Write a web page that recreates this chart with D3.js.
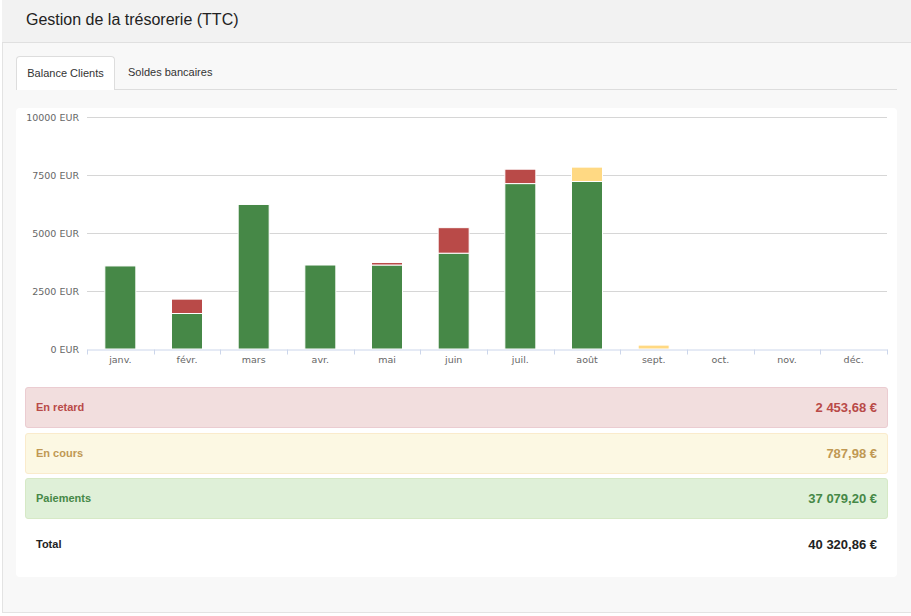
<!DOCTYPE html>
<html><head><meta charset="utf-8">
<script src="https://cdn.jsdelivr.net/npm/d3@7"></script>
<style>
html,body{margin:0;padding:0;width:911px;height:616px;overflow:hidden;background:#fff;font-family:"Liberation Sans",Arial,sans-serif;}
#panel{position:absolute;left:2px;top:0;width:909px;height:613px;background:#f8f8f8;border-left:1px solid #e3e3e3;border-bottom:1px solid #e3e3e3;box-sizing:border-box;}
#head{position:absolute;left:0;top:0;width:909px;height:43px;background:#f2f2f2;border-bottom:1px solid #e0e0e0;box-sizing:border-box;}
#title{position:absolute;left:24px;top:11px;font-size:16px;color:#222;}
#tabline{position:absolute;left:16px;top:89px;width:881px;height:1px;background:#ddd;}
.tab{position:absolute;top:56px;height:33px;font-size:11px;color:#333;line-height:33px;box-sizing:border-box;}
#tab1{left:16px;width:99px;background:#fff;border:1px solid #ddd;border-bottom:none;border-radius:4px 4px 0 0;text-align:center;height:34px;}
#tab2{left:128px;}
#box{position:absolute;left:16px;top:108px;width:881px;height:469px;background:#fff;border-radius:4px;}
#chart{position:absolute;left:16px;top:108px;}
.alert{position:absolute;left:25px;width:863px;height:41px;border:1px solid;border-radius:3px;box-sizing:border-box;font-weight:bold;}
.alert .l{position:absolute;left:10px;top:13px;font-size:11px;}
.alert .v{position:absolute;right:10px;top:12px;font-size:13px;}
</style></head><body>
<div id="panel">
</div>
<div id="head" style="left:2px"><div id="title">Gestion de la trésorerie (TTC)</div></div>
<div id="tabline"></div>
<div class="tab" id="tab1">Balance Clients</div>
<div class="tab" id="tab2">Soldes bancaires</div>
<div id="box"></div>
<svg id="chart" width="881" height="270"></svg>
<div id="alerts"></div>
<script>
const months = ["janv.","févr.","mars","avr.","mai","juin","juil.","août","sept.","oct.","nov.","déc."];
const paiements = [3580,1530,6230,3620,3620,4130,7130,7220,0,0,0,0];
const enRetard  = [0,620,0,0,110,1100,620,0,0,0,0,0];
const enCours   = [0,0,0,0,0,0,0,620,168,0,0,0];
const yTicks = [0,2500,5000,7500,10000];
const summaryLabels = ["En retard","En cours","Paiements","Total"];
const summaryValues = ["2 453,68 €","787,98 €","37 079,20 €","40 320,86 €"];

const colors = {paiements:"#468847", retard:"#b94a48", cours:"#ffd983"};

const data = months.map((m,i)=>({m, paiements:paiements[i], retard:enRetard[i], cours:enCours[i]}));
const svg = d3.select("#chart");
const x = d3.scaleBand().domain(months).range([71,871]).padding(0);
const y = d3.scaleLinear().domain([0,10000]).range([241,9]);

// grid
svg.append("g").selectAll("line").data(yTicks.filter(t=>t>0)).join("line")
  .attr("x1",71).attr("x2",871)
  .attr("y1",d=>Math.round(y(d))+0.5).attr("y2",d=>Math.round(y(d))+0.5)
  .attr("stroke","#d6d6d6").attr("stroke-width",1);

// y labels
svg.append("g").selectAll("text").data(yTicks).join("text")
  .attr("x",63).attr("y",d=>y(d)+3.5).attr("text-anchor","end")
  .attr("font-family","DejaVu Sans, sans-serif").attr("font-size","9.5px").attr("fill","#666")
  .text(d=>d+" EUR");

// bars
const stack = d3.stack().keys(["paiements","retard","cours"]);
const series = stack(data);
const bw = 31;
svg.append("g").selectAll("g").data(series).join("g")
  .attr("fill",d=>colors[d.key])
  .selectAll("rect").data(d=>d.filter(p=>p[1]-p[0]>0)).join("rect")
  .attr("x",d=>x(d.data.m)+x.bandwidth()/2-bw/2)
  .attr("width",bw)
  .attr("y",d=>y(d[1]))
  .attr("height",d=>y(d[0])-y(d[1]))
  .attr("stroke","#ffffff").attr("stroke-width",1);

// x axis
const xa = svg.append("g").attr("transform","translate(0,241.5)");
xa.call(d3.axisBottom(x).tickSize(0).tickSizeOuter(0));
xa.select(".domain").attr("stroke","#ccd6eb");
xa.selectAll(".tick text").attr("dy",null).attr("y",13)
  .attr("font-family","DejaVu Sans, sans-serif").attr("font-size","9.5px").attr("fill","#666");
xa.append("g").selectAll("line").data(d3.range(13)).join("line")
  .attr("x1",i=>Math.round(71+i*x.step())+0.5).attr("x2",i=>Math.round(71+i*x.step())+0.5)
  .attr("y1",0).attr("y2",5).attr("stroke","#ccd6eb");

// summary panels
const styles = [
  {bg:"#f2dede",bd:"#ebccd1",c:"#b94a48",top:387},
  {bg:"#fcf8e3",bd:"#faebcc",c:"#c09853",top:433},
  {bg:"#dff0d8",bd:"#d6e9c6",c:"#468847",top:478},
  {bg:"transparent",bd:"transparent",c:"#222",top:524}
];
const al = d3.select("#alerts").selectAll("div").data(summaryLabels).join("div")
  .attr("class","alert")
  .style("top",(d,i)=>styles[i].top+"px")
  .style("background",(d,i)=>styles[i].bg)
  .style("border-color",(d,i)=>styles[i].bd)
  .style("color",(d,i)=>styles[i].c);
al.append("div").attr("class","l").text(d=>d);
al.append("div").attr("class","v").text((d,i)=>summaryValues[i]);
</script>
</body></html>
